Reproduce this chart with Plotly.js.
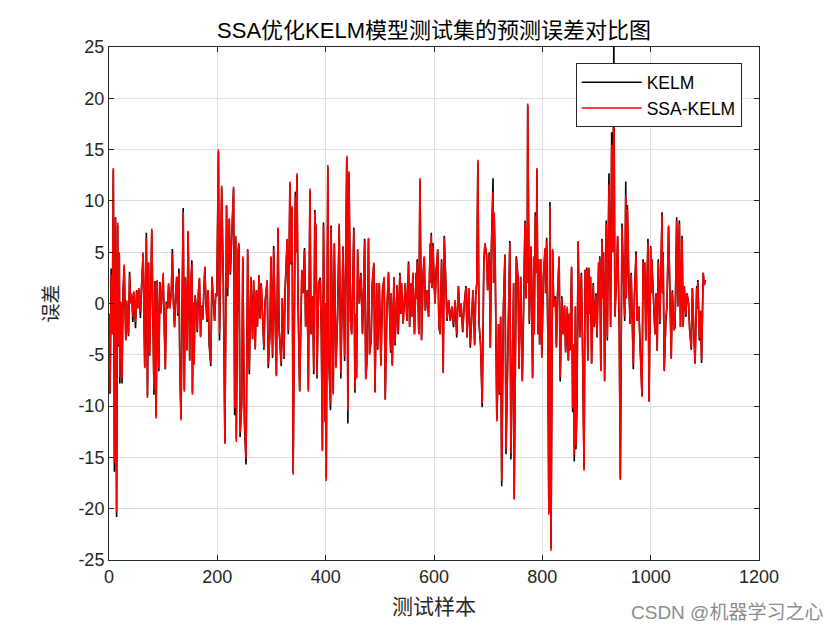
<!DOCTYPE html>
<html>
<head>
<meta charset="utf-8">
<script src="https://cdn.plot.ly/plotly-3.0.1.min.js"></script>
<style>html,body{margin:0;padding:0;background:#fff;}#chart{width:840px;height:630px;}</style>
</head>
<body>
<div id="chart"></div>
<script>
// Sample index of each read-off point (test sample number)
const sampleIdx = [
 0,2,4,6,8,10,12,14,16,17,
 19,20,22,24,26,28,30,31,33,36,
 38,40,42,44,46,49,51,53,55,58,
 60,63,66,67,69,71,73,75,77,79,
 81,83,85,87,89,90,92,94,96,98,
 100,102,104,106,108,110,112,115,117,119,
 121,123,125,127,129,131,133,135,137,139,
 141,143,144,146,148,149,151,153,154,156,
 157,159,161,163,165,167,169,171,173,175,
 177,179,181,183,185,188,190,193,195,197,
 199,202,204,208,211,214,217,219,222,224,
 227,230,232,234,235,238,240,242,245,247,
 250,253,256,259,262,265,267,270,272,274,
 277,279,281,283,286,288,292,294,297,299,
 302,304,307,309,312,314,318,320,323,325,
 329,331,334,336,338,340,344,345,347,349,
 352,356,358,361,363,366,368,371,373,376,
 378,380,381,382,384,387,390,392,394,396,
 399,400,401,404,406,409,410,414,416,419,
 422,425,428,432,435,437,439,441,443,446,
 448,450,452,454,456,457,459,462,465,468,
 472,474,476,479,481,484,486,489,491,494,
 496,499,502,505,508,510,513,516,520,521,
 523,526,528,532,534,537,539,540,543,547,
 550,553,555,557,559,561,564,567,568,569,
 572,574,577,580,582,584,587,590,593,594,
 595,596,598,600,602,604,607,609,611,614,
 617,619,622,624,627,630,633,636,639,642,
 645,648,650,653,656,659,661,664,667,670,
 672,675,677,679,681,683,686,689,692,694,
 697,699,702,704,706,709,710,711,713,716,
 718,719,721,723,725,728,731,733,738,740,
 742,745,747,748,752,755,757,760,763,765,
 768,770,771,772,773,776,779,782,784,785,
 787,789,790,792,793,795,797,799,802,805,
 806,808,810,812,814,816,819,821,824,826,
 828,831,833,836,838,841,843,846,848,850,
 851,854,856,858,859,861,862,864,866,869,
 872,874,877,879,880,882,884,886,888,889,
 891,894,896,899,901,904,905,906,908,910,
 912,913,915,918,920,923,926,928,930,932,
 934,937,939,942,944,947,949,952,954,955,
 957,959,962,964,968,970,973,975,978,980,
 984,986,987,989,991,995,997,1000,1001,1002,
 1006,1008,1010,1012,1014,1017,1021,1022,1023,1025,
 1028,1030,1033,1035,1038,1040,1043,1045,1048,1050,
 1053,1055,1058,1060,1062,1065,1067,1070,1072,1075,
 1077,1080,1082,1085,1086,1087,1090,1092,1094,1097,
 1099,1101
];

// SSA-KELM prediction error (red)
const errSSAKELM = [
 -1.0,-8.6,2.8,-3.0,13.2,-15.5,8.3,-20.4,7.9,-4.0,
 5.0,-7.2,0.2,-7.4,1.0,3.8,-1.0,-3.6,0.3,-3.0,
 2.8,0.0,1.0,-1.3,1.2,-1.8,1.2,-0.5,1.5,-0.8,
 1.6,5.0,-6.3,2.0,6.4,-9.2,4.0,-5.0,1.0,7.3,
 -1.0,-8.4,2.0,-11.2,2.3,-2.0,-6.3,2.0,-1.0,1.0,
 3.0,-2.0,-6.4,0.0,-0.3,2.0,-0.5,1.0,4.9,0.0,
 -2.3,1.0,2.6,-1.0,3.0,-7.3,-11.4,0.0,8.9,-8.6,
 2.6,-1.0,-4.6,7.1,0.0,-5.6,2.0,3.8,-8.9,0.0,
 -6.0,0.7,-0.5,-2.6,1.0,2.5,-3.3,-0.3,-1.6,2.0,
 3.6,0.0,-1.6,1.3,-3.8,-5.8,2.6,0.0,-1.7,1.0,
 0.7,15.0,-3.0,11.5,2.5,-13.7,9.6,1.5,8.3,3.0,
 6.5,11.4,-10.2,6.6,-13.5,5.2,5.9,-12.6,-9.9,4.6,
 -11.0,-15.1,5.3,-6.5,2.6,-3.5,2.3,-4.5,1.2,-2.3,
 2.8,-1.5,2.0,-0.5,-4.3,0.0,2.3,-5.9,-3.0,4.6,
 -5.0,5.3,-3.5,-7.1,7.4,-2.5,-5.8,0.5,-5.2,1.3,
 6.3,-2.6,11.9,4.0,9.5,-16.7,10.5,5.0,12.7,0.5,
 -8.6,3.3,1.0,5.2,-2.3,1.3,-8.6,11.2,-3.0,0.7,
 -6.5,8.9,1.0,7.8,-7.0,2.0,2.3,-3.0,-14.4,7.6,
 -11.6,0.0,-17.3,13.5,-5.9,-9.8,7.4,-8.9,5.9,-6.3,
 -1.0,7.8,-6.8,5.6,-5.2,4.6,14.4,-10.4,12.9,-1.7,
 -3.0,2.0,7.2,-8.4,-1.0,-7.3,5.3,0.0,2.8,-3.0,
 6.1,-7.4,-5.9,6.4,-5.0,-3.4,2.0,4.0,-8.7,2.0,
 -4.3,2.0,-6.1,1.3,2.6,-9.4,-0.5,3.1,-4.6,1.0,
 -6.1,2.6,-3.9,1.8,-2.8,2.8,-1.0,2.0,-2.0,2.0,
 -1.7,3.9,-2.3,2.0,-1.3,3.0,-3.0,2.8,0.5,4.1,
 -3.0,12.2,-3.6,3.0,4.6,-0.7,1.3,-1.3,5.9,2.0,
 6.6,1.5,5.6,2.3,0.0,3.1,5.3,-2.0,-3.0,4.1,
 -6.8,6.4,2.0,-1.5,0.3,-1.7,-0.3,-2.0,0.3,-3.0,
 1.7,-1.3,0.0,-2.6,0.0,1.5,-3.3,1.5,-4.1,-0.3,
 1.3,-4.1,0.7,2.0,14.0,-1.7,-4.0,-9.7,4.0,5.9,
 4.8,1.3,4.8,-4.3,5.4,10.9,2.0,8.9,3.8,-11.5,
 -7.3,-2.0,-8.7,-1.3,-17.3,-0.7,4.8,-14.2,-0.7,5.9,
 -14.6,-2.6,2.0,-19.1,4.4,2.6,-6.4,2.6,-7.6,-1.7,
 7.9,0.5,7.4,2.0,19.5,-1.7,5.6,-7.3,4.6,-3.0,
 8.6,3.0,13.2,-3.0,4.3,-4.0,4.3,-5.3,2.6,5.4,
 1.0,6.1,-2.3,-20.6,9.5,-24.1,5.3,-0.3,0.5,-4.3,
 0.7,4.6,-7.2,0.5,-3.0,-0.2,-4.8,-0.3,-5.6,-1.0,
 -4.6,3.6,-10.2,-4.0,-14.8,-0.3,-13.8,-9.9,6.1,-3.3,
 2.8,-3.3,-16.3,3.3,-1.0,3.3,-5.6,3.5,-1.0,2.6,
 -5.9,1.8,-2.3,0.8,-3.1,4.0,0.5,4.4,-6.6,6.1,
 0.5,5.0,-7.6,7.8,-3.3,11.6,-2.3,15.5,5.0,21.0,
 -1.3,2.6,6.6,-2.3,-17.2,7.5,4.3,-1.3,10.6,0.5,
 9.2,3.0,-2.0,2.8,-6.0,0.7,4.8,-1.7,-0.3,-3.6,
 -9.1,4.1,0.5,4.0,-3.6,6.0,-9.6,5.4,1.0,4.3,
 -0.3,-3.0,1.0,-4.6,4.0,-1.8,8.6,1.0,4.8,-6.6,
 -1.5,-0.3,7.6,3.3,-5.4,1.1,-2.6,-2.3,8.1,-0.3,
 7.8,-2.3,6.3,-2.3,1.7,-1.1,1.0,0.0,-2.6,-4.3,
 1.5,-3.3,-5.9,1.5,-0.5,2.1,-3.4,-0.7,-5.5,3.0,
 1.8,2.3
];

// KELM prediction error (black)
const errKELM = [
 -1.0,-8.8,3.4,-3.0,13.0,-16.4,8.4,-20.8,7.6,-4.2,
 4.8,-7.8,0.0,-7.8,1.2,3.6,-1.2,-3.5,0.0,-3.2,
 3.1,0.2,0.8,-1.8,1.0,-2.4,1.3,-0.4,1.4,-1.4,
 1.5,4.8,-6.2,1.8,6.9,-9.0,4.0,-5.1,1.2,7.1,
 -1.0,-8.9,2.2,-11.0,2.2,-2.1,-6.6,2.1,-0.8,1.0,
 2.8,-2.2,-6.4,0.2,-0.5,1.8,-0.4,1.1,5.3,0.0,
 -2.3,0.8,2.6,-1.2,3.4,-7.1,-11.2,0.2,9.3,-8.4,
 2.5,-1.1,-4.5,7.0,0.0,-5.5,2.0,4.2,-8.7,0.1,
 -5.8,0.8,-0.4,-2.8,1.0,2.4,-3.2,-0.2,-1.5,2.0,
 3.5,0.0,-1.8,1.3,-4.1,-6.1,2.6,0.0,-1.7,1.0,
 0.7,14.8,-3.6,11.3,2.0,-13.5,9.5,0.7,8.2,2.8,
 6.9,11.2,-10.9,6.4,-13.2,4.8,5.7,-13.0,-9.7,4.4,
 -11.6,-15.7,5.2,-6.9,2.5,-3.4,2.2,-4.4,1.3,-2.2,
 2.7,-1.4,2.0,-0.6,-4.5,0.1,2.2,-6.3,-3.0,4.5,
 -5.3,5.6,-3.4,-7.0,7.3,-2.4,-6.1,0.5,-5.4,1.2,
 6.2,-3.0,11.7,3.8,9.3,-16.5,10.9,5.0,12.5,0.0,
 -8.5,3.2,1.0,5.4,-2.2,1.3,-8.4,11.0,-3.0,0.7,
 -6.9,9.1,1.0,7.6,-7.3,2.0,2.5,-3.0,-14.2,7.9,
 -11.4,0.0,-17.0,13.3,-5.8,-10.4,7.6,-8.7,5.8,-6.1,
 -1.3,7.6,-7.3,5.5,-5.6,4.5,14.2,-11.7,12.7,-1.6,
 -3.0,2.0,7.4,-8.7,-1.0,-7.2,5.2,0.0,3.0,-2.9,
 6.3,-7.3,-5.8,6.3,-4.9,-3.6,2.0,3.9,-8.6,2.0,
 -4.5,2.0,-6.0,1.3,2.5,-9.3,-0.7,3.0,-4.8,1.0,
 -6.0,2.5,-4.1,1.8,-3.0,3.0,-1.0,2.0,-2.0,2.0,
 -1.7,4.1,-2.3,2.0,-1.3,3.0,-3.0,3.0,0.5,4.3,
 -3.0,12.0,-3.5,3.0,4.5,-0.7,1.3,-1.3,5.8,2.0,
 6.9,1.5,5.9,2.3,0.0,3.3,5.2,-2.0,-3.0,4.3,
 -6.7,6.6,2.0,-1.7,0.3,-1.7,-0.3,-2.3,0.3,-3.3,
 1.7,-1.3,0.0,-2.8,0.0,1.7,-3.3,1.5,-4.3,-0.3,
 1.3,-4.0,0.7,2.0,13.8,-2.0,-4.0,-10.1,4.0,5.8,
 4.8,1.3,5.0,-4.3,5.6,12.2,2.0,8.8,4.0,-11.3,
 -7.2,-2.0,-8.9,-1.3,-17.8,-0.7,4.7,-14.7,-0.7,6.1,
 -15.2,-2.6,2.0,-19.0,4.6,2.6,-6.3,2.6,-7.5,-1.7,
 8.1,0.5,7.3,2.0,19.3,-2.0,5.5,-7.2,4.5,-3.0,
 8.9,3.0,13.0,-3.0,4.3,-4.0,4.3,-5.2,2.6,5.3,
 1.0,6.4,-2.6,-20.4,9.9,-23.9,5.2,-0.3,0.7,-4.2,
 0.7,4.5,-7.6,0.7,-3.0,-0.2,-4.7,-0.5,-5.5,-1.0,
 -4.5,3.5,-10.6,-4.0,-15.4,-0.3,-14.2,-9.8,6.0,-3.3,
 3.0,-3.3,-16.1,3.3,-1.0,3.5,-5.5,3.4,-1.0,2.6,
 -5.8,2.0,-2.3,1.0,-3.3,4.0,0.5,4.6,-6.5,6.3,
 0.5,5.0,-7.5,8.1,-3.6,12.7,-2.3,16.7,5.0,26.0,
 -1.3,2.6,6.5,-2.6,-17.0,7.8,4.3,-1.7,11.9,0.5,
 9.6,3.0,-2.0,3.0,-6.4,0.7,5.1,-1.7,-0.3,-3.6,
 -9.0,4.3,0.5,4.0,-3.6,6.3,-9.5,5.6,1.0,4.3,
 -0.3,-3.0,1.0,-4.6,4.3,-2.0,8.9,1.0,5.0,-6.5,
 -1.7,-0.3,7.5,3.3,-5.3,1.3,-2.6,-2.3,8.4,-0.3,
 8.1,-2.3,6.6,-2.3,1.7,-1.3,1.0,0.0,-2.6,-4.5,
 1.5,-3.3,-5.8,1.7,-0.5,2.3,-3.6,-0.7,-5.8,3.0,
 1.8,2.3
];

const seriesNames = ['KELM', 'SSA-KELM'];
const xTicks = [0, 200, 400, 600, 800, 1000, 1200];
const yTicks = [-25, -20, -15, -10, -5, 0, 5, 10, 15, 20, 25];

const FONT = '"Liberation Sans", Arial, Helvetica, "Noto Sans CJK SC", sans-serif';
const CJK = '"Liberation Sans", "Noto Sans CJK SC", sans-serif';

const traces = [
  {x: sampleIdx, y: errKELM, name: seriesNames[0], type: 'scatter', mode: 'lines',
   line: {color: '#000000', width: 1.6}},
  {x: sampleIdx, y: errSSAKELM, name: seriesNames[1], type: 'scatter', mode: 'lines',
   line: {color: '#ff0000', width: 1.6}}
];

const axisCommon = {
  showline: true, linecolor: '#262626', linewidth: 1, mirror: 'ticks',
  ticks: 'inside', ticklen: 5, tickcolor: '#262626',
  showgrid: true, gridcolor: '#dfdfdf', gridwidth: 1,
  zeroline: false, tickfont: {family: FONT, size: 18, color: '#262626'}
};

const layout = {
  width: 840, height: 630,
  margin: {l: 109, r: 81, t: 47, b: 70},
  paper_bgcolor: '#ffffff', plot_bgcolor: '#ffffff',
  title: {text: 'SSA优化KELM模型测试集的预测误差对比图', font: {family: CJK, size: 22, color: '#000'},
          xref: 'paper', x: 0.5, xanchor: 'center', yref: 'container', y: 0.952, yanchor: 'middle'},
  xaxis: Object.assign({}, axisCommon, {
    range: [0, 1200], tickvals: xTicks, ticktext: xTicks.map(String),
    title: {text: '测试样本', font: {family: CJK, size: 21, color: '#262626'}, standoff: 13}
  }),
  yaxis: Object.assign({}, axisCommon, {
    range: [-25, 25], tickvals: yTicks, ticktext: yTicks.map(String),
    title: {text: '误差', font: {family: CJK, size: 19, color: '#262626'}, standoff: 14}
  }),
  showlegend: true,
  legend: {x: 0.718, y: 0.968, xanchor: 'left', yanchor: 'top', bgcolor: '#ffffff',
           bordercolor: '#262626', borderwidth: 1, font: {family: FONT, size: 17.5, color: '#000'},
           itemwidth: 60, tracegroupgap: 0},
  annotations: [{text: 'CSDN @机器学习之心', xref: 'paper', yref: 'paper', x: 1.1015, y: -0.1032,
                 xanchor: 'right', yanchor: 'middle', showarrow: false,
                 font: {family: CJK, size: 19, color: '#8c8c8c'}}]
};

Plotly.newPlot('chart', traces, layout, {displayModeBar: false, staticPlot: true});
</script>
</body>
</html>
